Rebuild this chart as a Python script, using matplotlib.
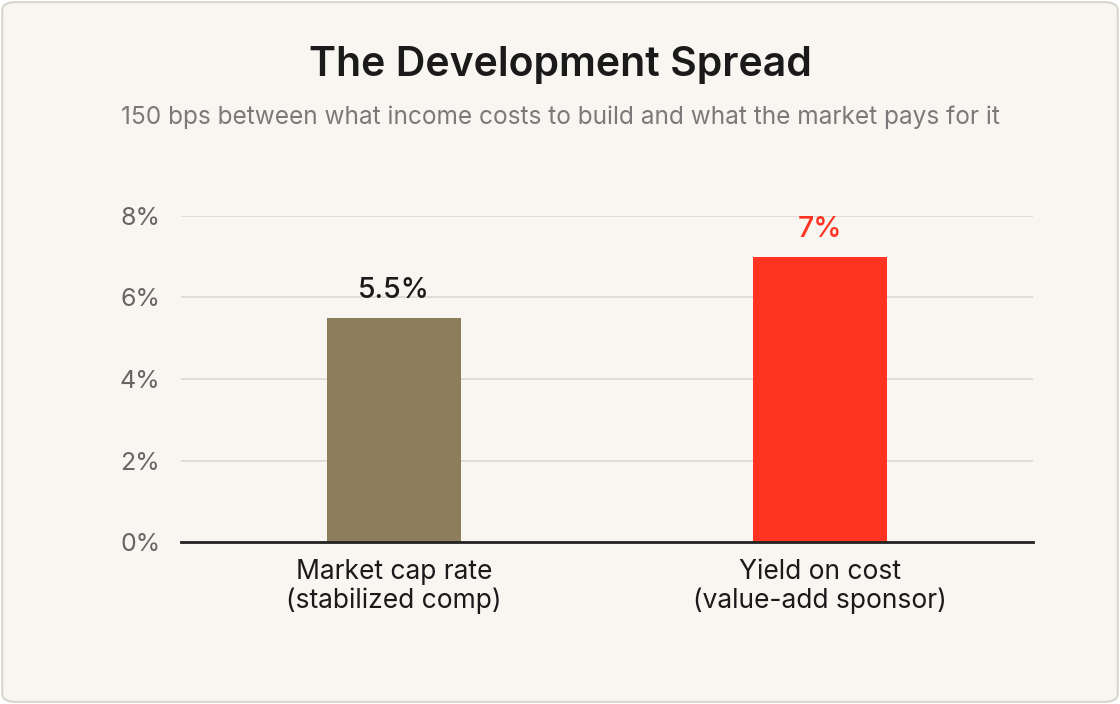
import matplotlib
matplotlib.use("Agg")
import matplotlib.pyplot as plt
from matplotlib.patches import FancyBboxPatch

categories = ["Market cap rate\n(stabilized comp)", "Yield on cost\n(value-add sponsor)"]
values = [5.5, 7.0]
value_labels = ["5.5%", "7%"]
bar_colors = ["#8c7d5b", "#ff3322"]
label_colors = ["#1a1a1a", "#ff3322"]
yticks = [0, 2, 4, 6, 8]
ytick_labels = ["0%", "2%", "4%", "6%", "8%"]

plt.rcParams['font.family'] = ['Inter', 'DejaVu Sans']

fig = plt.figure(figsize=(11.2, 7.04), dpi=100)
fig.patch.set_facecolor("white")
bg = FancyBboxPatch((0.002, 0.003), 0.996, 0.994, boxstyle="round,pad=0,rounding_size=0.012",
                    transform=fig.transFigure, facecolor="#f9f6f1", edgecolor="#d8d5cf",
                    linewidth=1.5, zorder=-10)
fig.patches.append(bg)

ax = fig.add_axes([0.1616, 0.2301, 0.9223 - 0.1616, 0.6932 - 0.2301])
ax.set_facecolor("none")
x = list(range(len(categories)))
ax.bar(x, values, width=0.315, color=bar_colors, zorder=3)
for xi, v, lab, c in zip(x, values, value_labels, label_colors):
    ax.text(xi, v + 0.33, lab, ha="center", va="bottom", fontsize=20.5, fontweight="medium", color=c)

ax.set_xlim(-0.5, 1.5)
ax.set_ylim(0, 8)
ax.set_yticks(yticks)
ax.set_yticklabels(ytick_labels)
ax.set_xticks(x)
ax.set_xticklabels(categories)
ax.tick_params(axis="y", length=0, pad=15, labelsize=18, labelcolor="#666666")
ax.tick_params(axis="x", length=0, pad=12, labelsize=19, labelcolor="#1a1a1a")
for lab in ax.get_xticklabels():
    lab.set_linespacing(1.15)
ax.grid(axis="y", color="#dcd8d2", linewidth=1.2, zorder=0)
for s in ["top", "right", "left"]:
    ax.spines[s].set_visible(False)
ax.spines["bottom"].set_color("#222222")
ax.spines["bottom"].set_linewidth(2)
ax.spines["bottom"].set_zorder(4)

fig.text(0.5, 0.908, "The Development Spread", ha="center", va="center", fontsize=29.5,
         fontweight="semibold", color="#1a1a1a")
fig.text(0.5, 0.834, "150 bps between what income costs to build and what the market pays for it",
         ha="center", va="center", fontsize=17.6, color="#7a7a7a")

fig.savefig("out.png", dpi=100, facecolor=fig.get_facecolor())
